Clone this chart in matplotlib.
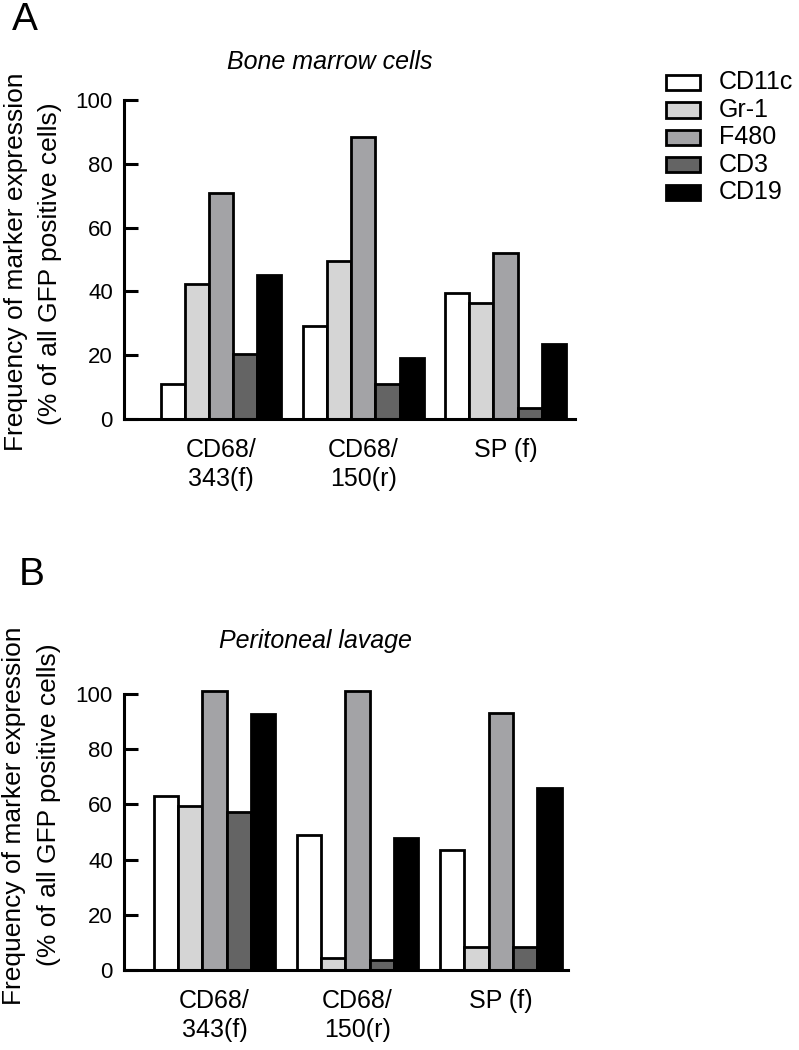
import matplotlib
matplotlib.use('Agg')
import matplotlib.pyplot as plt
from matplotlib.patches import Rectangle
import numpy as np

plt.rcParams['font.family'] = ['Liberation Sans', 'DejaVu Sans']

groups = ['CD68/\n343(f)', 'CD68/\n150(r)', 'SP (f)']
markers = ['CD11c', 'Gr-1', 'F480', 'CD3', 'CD19']
colors = ['#ffffff', '#d5d5d5', '#a3a3a6', '#646464', '#000000']

# Panel A: Bone marrow cells
bm_cd11c = [11, 29, 39.5]
bm_gr1 = [42.3, 49.5, 36.3]
bm_f480 = [70.8, 88.3, 52]
bm_cd3 = [20.5, 11, 3.5]
bm_cd19 = [45, 19, 23.6]

# Panel B: Peritoneal lavage
pl_cd11c = [63, 48.8, 43.5]
pl_gr1 = [59.4, 4.2, 8.5]
pl_f480 = [101, 101, 93]
pl_cd3 = [57.2, 3.8, 8.2]
pl_cd19 = [92.6, 47.9, 65.8]

W, H = 799, 1050
fig = plt.figure(figsize=(W / 100, H / 100), dpi=100)


def fx(px):
    return px / W


def fy(py):
    return 1 - py / H


def draw_panel(ax, series, xlim):
    n = len(series)
    w = 0.17
    x = np.arange(len(groups))
    for i, vals in enumerate(series):
        ax.bar(x + (i - (n - 1) / 2) * w, vals, width=w, color=colors[i],
               edgecolor='black', linewidth=2.0, zorder=2)
    ax.set_xlim(*xlim)
    ax.set_ylim(0, 103)
    ax.set_yticks(np.arange(0, 101, 20))
    ax.set_xticks(x)
    ax.set_xticklabels(groups, fontsize=18, linespacing=1.25)
    for s in ['top', 'right']:
        ax.spines[s].set_visible(False)
    ax.spines['left'].set_bounds(0, 100)
    ax.spines['left'].set_linewidth(2.2)
    ax.spines['bottom'].set_linewidth(2.2)
    ax.tick_params(axis='y', direction='in', length=10, width=2.2,
                   labelsize=16, pad=8)
    ax.tick_params(axis='x', length=0, pad=14)


axA = fig.add_axes([fx(124), fy(419) , fx(575) - fx(124), fy(90.4) - fy(419)])
axB = fig.add_axes([fx(124), fy(970), fx(568) - fx(124), fy(685.7) - fy(970)])

draw_panel(axA, [bm_cd11c, bm_gr1, bm_f480, bm_cd3, bm_cd19], (-0.682, 2.488))
draw_panel(axB, [pl_cd11c, pl_gr1, pl_f480, pl_cd3, pl_cd19], (-0.632, 2.470))

fig.text(fx(330), fy(62), 'Bone marrow cells', style='italic', fontsize=18,
         ha='center', va='center')
fig.text(fx(315), fy(641), 'Peritoneal lavage', style='italic', fontsize=18,
         ha='center', va='center')
fig.text(fx(25), fy(20), 'A', fontsize=28, ha='center', va='center')
fig.text(fx(32), fy(575), 'B', fontsize=28, ha='center', va='center')

line1 = 'Frequency of marker expression'
line2 = '(% of all GFP positive cells)'
fig.text(fx(16), fy(262), line1, rotation=90, fontsize=19, ha='center', va='center')
fig.text(fx(50), fy(264), line2, rotation=90, fontsize=19, ha='center', va='center')
fig.text(fx(14), fy(816), line1, rotation=90, fontsize=19, ha='center', va='center')
fig.text(fx(49), fy(805), line2, rotation=90, fontsize=19, ha='center', va='center')

# Legend
centers = [82.5, 110, 137.5, 164.5, 192]
for m, c, cy in zip(markers, colors, centers):
    fig.patches.append(Rectangle((fx(666), fy(cy + 7.5)), fx(700) - fx(666),
                                 fy(cy - 7.5) - fy(cy + 7.5),
                                 transform=fig.transFigure, facecolor=c,
                                 edgecolor='black', linewidth=2.0))
    fig.text(fx(719), fy(cy), m, fontsize=18, ha='left', va='center')

fig.savefig('out.png', dpi=100)
